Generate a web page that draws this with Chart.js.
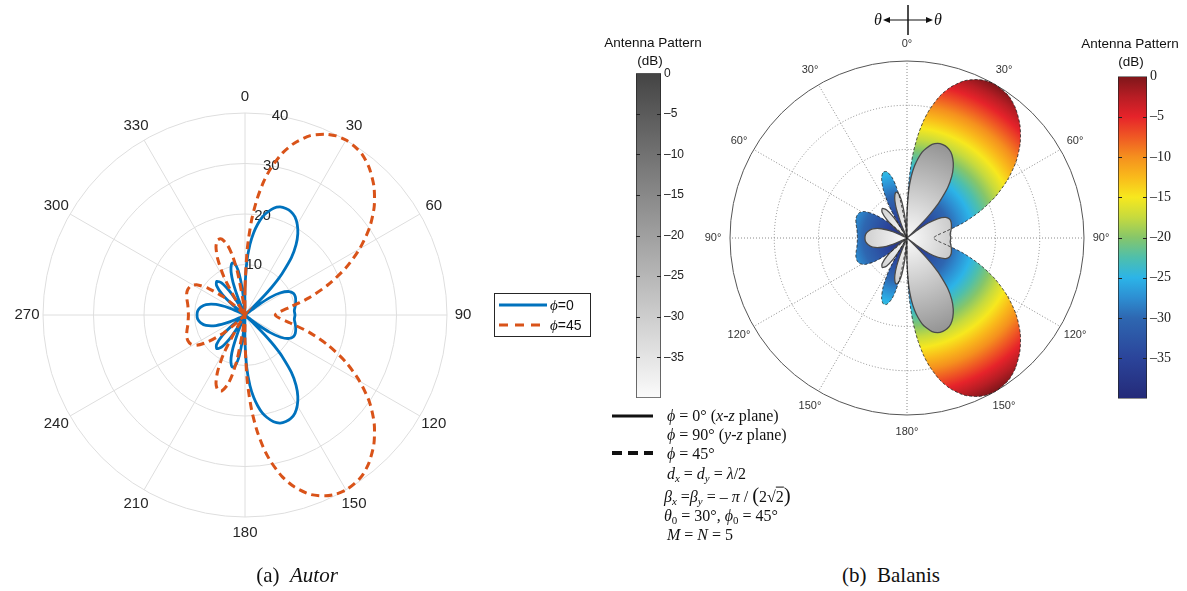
<!DOCTYPE html>
<html>
<head>
<meta charset="utf-8">
<title>Antenna pattern: Autor vs Balanis</title>
<script src="https://cdn.jsdelivr.net/npm/chart.js@4.4.1/dist/chart.umd.min.js"></script>
<style>
  body { margin: 0; width: 1187px; height: 591px; position: relative; overflow: hidden; background: #fff; }
  canvas { position: absolute; }
  .txt { position: absolute; white-space: nowrap; transform: translate(0, -50%); line-height: 1; color: #111; }
  .mid { transform: translate(-50%, -50%); }
  .sans { font-family: "Liberation Sans", Arial, sans-serif; }
  .serif { font-family: "Liberation Serif", "Times New Roman", serif; }
  sub { font-size: 0.68em; vertical-align: -0.3em; line-height: 0; }
</style>
</head>
<body>
<canvas id="autor" width="600" height="591" style="left:0;top:0"></canvas>
<canvas id="balanis" width="440" height="440" style="left:687px;top:18px"></canvas>
<canvas id="cbGray" width="57" height="345" style="left:636px;top:63px"></canvas>
<canvas id="cbJet" width="61" height="345" style="left:1118px;top:65px"></canvas>

<!-- theta direction cross above the Balanis plot -->
<svg width="90" height="40" style="position:absolute;left:863px;top:0">
  <line x1="45" y1="5" x2="45" y2="35" stroke="#111" stroke-width="1.5"/>
  <line x1="25" y1="20" x2="65" y2="20" stroke="#111" stroke-width="1.2"/>
  <polygon points="20,20 27,17 27,23" fill="#111"/>
  <polygon points="70,20 63,17 63,23" fill="#111"/>
</svg>
<div class="txt mid serif" style="left:878px;top:20px;font-size:16px"><i>θ</i></div>
<div class="txt mid serif" style="left:938px;top:20px;font-size:16px"><i>θ</i></div>

<div class="txt mid sans" style="left:653px;top:43px;font-size:13.5px">Antenna Pattern</div>
<div class="txt mid sans" style="left:650px;top:61px;font-size:13.5px">(dB)</div>
<div class="txt mid sans" style="left:1130px;top:44px;font-size:13.5px">Antenna Pattern</div>
<div class="txt mid sans" style="left:1131px;top:62px;font-size:13.5px">(dB)</div>

<!-- legend of the Balanis figure -->
<svg width="46" height="60" style="position:absolute;left:610px;top:405px">
  <line x1="2" y1="11" x2="43" y2="11" stroke="#111" stroke-width="3"/>
  <line x1="2" y1="48" x2="43" y2="48" stroke="#111" stroke-width="4" stroke-dasharray="10,6"/>
</svg>
<div class="txt serif" style="left:667px;top:416px;font-size:16px"><i>ϕ</i> = 0° (<i>x</i>-<i>z</i> plane)</div>
<div class="txt serif" style="left:667px;top:435px;font-size:16px"><i>ϕ</i> = 90° (<i>y</i>-<i>z</i> plane)</div>
<div class="txt serif" style="left:667px;top:454px;font-size:16px"><i>ϕ</i> = 45°</div>
<div class="txt serif" style="left:667px;top:474px;font-size:16px"><i>d<sub>x</sub></i> = <i>d<sub>y</sub></i> = <i>λ</i>/2</div>
<div class="txt serif" style="left:664px;top:495px;font-size:16px"><i>β<sub>x</sub></i> =<i>β<sub>y</sub></i> = – <i>π</i> / <span style="font-size:1.3em">(</span>2√<span style="text-decoration:overline">2</span><span style="font-size:1.3em">)</span></div>
<div class="txt serif" style="left:664px;top:516px;font-size:16px"><i>θ</i><sub>0</sub> = 30°, <i>ϕ</i><sub>0</sub> = 45°</div>
<div class="txt serif" style="left:667px;top:535px;font-size:16px"><i>M</i> = <i>N</i> = 5</div>

<div class="txt mid serif" style="left:297px;top:575px;font-size:21px">(a)&nbsp; <i>Autor</i></div>
<div class="txt mid serif" style="left:891px;top:575px;font-size:21px">(b)&nbsp; Balanis</div>

<script>
// level = pattern in dB + 40 (floor at 0), angle in degrees from top, clockwise
const phi0Deg = [0, 2, 4, 6, 8, 10, 12, 15, 18, 21, 24, 27, 30, 33, 36, 39, 42, 43, 44, 45, 46, 47, 51, 52, 53, 55, 58, 62, 66, 70, 75, 80, 85, 90,
  95, 100, 105, 110, 114, 118, 122, 125, 127, 128, 129, 133, 134, 135, 136, 137, 138, 141, 144, 147, 150, 153, 156, 159, 162, 165, 168, 170, 172, 174, 176, 178,
  180, 181, 182, 184, 185, 186, 188, 190, 192, 194, 196, 198, 200, 202, 203, 204, 209, 210, 211, 213, 216, 220, 224, 228, 231, 233, 234, 243, 244, 246, 250, 255, 260, 265, 270,
  275, 280, 285, 290, 294, 296, 297, 306, 307, 309, 312, 316, 320, 324, 327, 329, 330, 331, 336, 337, 338, 340, 342, 344, 346, 348, 350, 352, 354, 355, 356, 358, 359];
const phi0Lvl = [5.3, 10.6, 14.0, 16.4, 18.2, 19.7, 20.7, 21.9, 22.5, 22.6, 22.4, 21.8, 20.7, 19.2, 17.2, 14.6, 10.9, 9.3, 7.5, 5.3, 2.4, 0, 0, 1.2, 3.3, 6.0, 8.3, 9.9, 10.5, 10.6, 10.4, 10.1, 9.8, 9.9,
  9.8, 10.1, 10.4, 10.6, 10.5, 9.9, 8.3, 6.0, 3.3, 1.2, 0, 0, 2.4, 5.3, 7.5, 9.3, 10.9, 14.6, 17.2, 19.2, 20.7, 21.8, 22.4, 22.6, 22.5, 21.9, 20.7, 19.7, 18.2, 16.4, 14.0, 10.6,
  5.3, 0.9, 0, 0, 2.5, 5.2, 8.2, 9.8, 10.5, 10.6, 10.0, 8.9, 7.0, 4.0, 1.9, 0, 0, 1.1, 3.1, 5.7, 7.8, 8.7, 8.1, 6.0, 3.1, 0.2, 0, 0, 1.4, 3.5, 6.1, 8.0, 8.9, 9.4, 9.5,
  9.4, 8.9, 8.0, 6.1, 3.5, 1.4, 0, 0, 0.2, 3.1, 6.0, 8.1, 8.7, 7.8, 5.7, 3.1, 1.1, 0, 0, 1.9, 4.0, 7.0, 8.9, 10.0, 10.6, 10.5, 9.8, 8.2, 5.2, 2.5, 0, 0, 0.9];

const phi45Deg = [0, 2, 4, 6, 8, 10, 13, 16, 20, 24, 27, 30, 33, 36, 40, 45, 50, 55, 60, 65, 70, 75, 80, 85, 90,
  95, 100, 105, 110, 115, 120, 125, 130, 135, 140, 144, 147, 150, 153, 156, 160, 164, 167, 170, 172, 174, 176, 178,
  180, 181, 187, 188, 190, 192, 194, 197, 200, 203, 206, 209, 212, 213, 214, 226, 227, 228, 230, 234, 238, 242, 246, 250, 255, 260, 265, 270,
  275, 280, 285, 290, 294, 298, 302, 306, 310, 312, 313, 314, 326, 327, 328, 331, 334, 337, 340, 343, 346, 348, 350, 352, 353, 359];
const phi45Lvl = [5.3, 13.2, 18.9, 23.2, 26.7, 29.5, 32.9, 35.4, 37.8, 39.2, 39.8, 40, 39.8, 39.4, 38.2, 36.1, 33.4, 30.1, 26.2, 22.0, 17.5, 13.1, 9.1, 6.8, 6.0,
  6.8, 9.1, 13.1, 17.5, 22.0, 26.2, 30.1, 33.4, 36.1, 38.2, 39.4, 39.8, 40, 39.8, 39.2, 37.8, 35.4, 32.9, 29.5, 26.7, 23.2, 18.9, 13.2,
  5.3, 0, 0, 3.4, 8.8, 12.1, 14.2, 15.7, 15.8, 14.7, 12.3, 8.5, 2.8, 0.2, 0, 0, 1.3, 2.9, 5.6, 9.0, 11.3, 12.2, 12.4, 12.3, 11.9, 11.5, 11.3, 11.2,
  11.3, 11.5, 11.9, 12.3, 12.4, 12.2, 11.3, 9.0, 5.6, 2.9, 1.3, 0, 0, 0.2, 2.8, 8.5, 12.3, 14.7, 15.8, 15.7, 14.2, 12.1, 8.8, 3.4, 0, 0];

const rTicks = [10, 20, 30, 40];
const autorAngleTicks = [0, 30, 60, 90, 120, 150, 180, 210, 240, 270, 300, 330];
const cbTicks = [0, -5, -10, -15, -20, -25, -30, -35, -40];

// colour maps of the two colourbars (dB -> colour)
const jetDb = [0, -2.5, -5, -7.5, -10, -12.5, -15, -17.5, -20, -22.5, -25, -27.5, -30, -35, -40];
const jetColors = ['#7e161a', '#b71d24', '#e6232a', '#ef5824', '#f5901e', '#f9ba1b', '#f7e81e', '#c6da3e', '#86c66a', '#4ebfac', '#2cb4e8', '#2d8ed2', '#2e67b1', '#2b449a', '#242a78'];
const grayDb = [0, -40];
const grayColors = ['#444444', '#fbfbfb'];

const blue = '#0072BD';
const orange = '#D95319';

const thetaLabels = Array.from({ length: 360 }, (_, i) => String(i));

function onGrid(deg, lvl) {
  const out = new Array(360).fill(null);
  deg.forEach((d, i) => { out[d % 360] = lvl[i]; });
  return out;
}

function radialFill(stopsDb, colors) {
  return (c) => {
    const s = c.chart.scales.r;
    if (!s || !s.drawingArea) return 'rgba(0,0,0,0)';
    const g = c.chart.ctx.createRadialGradient(s.xCenter, s.yCenter, 0, s.xCenter, s.yCenter, s.drawingArea);
    stopsDb.forEach((d, i) => g.addColorStop((d + 40) / 40, colors[i]));
    return g;
  };
}

const autorDecor = {
  id: 'autorDecor',
  beforeDatasetsDraw(chart) {
    const s = chart.scales.r, c = chart.ctx;
    c.save();
    c.font = '15px "Liberation Sans", Arial, sans-serif';
    c.fillStyle = '#262626';
    c.textAlign = 'center';
    c.textBaseline = 'middle';
    rTicks.forEach(v => {
      const p = s.getPointPosition(10, s.getDistanceFromCenterForValue(v));
      c.fillText(String(v), p.x, p.y);
    });
    c.restore();
  },
  afterDraw(chart) {
    const s = chart.scales.r, c = chart.ctx;
    c.save();
    c.font = '15px "Liberation Sans", Arial, sans-serif';
    c.fillStyle = '#262626';
    c.textAlign = 'center';
    c.textBaseline = 'middle';
    autorAngleTicks.forEach(a => {
      const p = s.getPointPosition(a, s.drawingArea + 16);
      c.fillText(String(a), p.x, p.y);
    });
    // legend box
    c.fillStyle = '#fff';
    c.fillRect(494.5, 293.5, 96, 43);
    c.strokeStyle = '#262626';
    c.lineWidth = 1;
    c.strokeRect(494.5, 293.5, 96, 43);
    c.lineWidth = 2.8;
    c.strokeStyle = blue;
    c.beginPath(); c.moveTo(499, 305); c.lineTo(547, 305); c.stroke();
    c.strokeStyle = orange;
    c.setLineDash([9, 7]);
    c.beginPath(); c.moveTo(499, 325); c.lineTo(547, 325); c.stroke();
    c.setLineDash([]);
    c.textAlign = 'left';
    c.fillStyle = '#111';
    [['=0', 306], ['=45', 326]].forEach(([t, y]) => {
      c.font = 'italic 15px "Liberation Serif", serif';
      c.fillText('ϕ', 550, y);
      const w = c.measureText('ϕ').width;
      c.font = '14px "Liberation Sans", Arial, sans-serif';
      c.fillText(t, 550 + w, y);
    });
    c.restore();
  }
};

const balanisDecor = {
  id: 'balanisDecor',
  afterDraw(chart) {
    const s = chart.scales.r, c = chart.ctx;
    c.save();
    c.font = '11px "Liberation Sans", Arial, sans-serif';
    c.fillStyle = '#333';
    c.textAlign = 'center';
    c.textBaseline = 'middle';
    autorAngleTicks.forEach(a => {
      const p = s.getPointPosition(a, s.drawingArea + 17);
      c.fillText((a <= 180 ? a : 360 - a) + '°', p.x, p.y);
    });
    c.restore();
  }
};

const innerTicks = {
  id: 'innerTicks',
  afterDatasetsDraw(chart) {
    const y = chart.scales.y, a = chart.chartArea, c = chart.ctx;
    c.save();
    c.strokeStyle = '#222';
    c.lineWidth = 1;
    cbTicks.forEach(v => {
      if (v === 0 || v === -40) return;
      const py = Math.round(y.getPixelForValue(v)) + 0.5;
      c.beginPath();
      c.moveTo(a.left, py); c.lineTo(a.left + 4, py);
      c.moveTo(a.right - 4, py); c.lineTo(a.right, py);
      c.stroke();
    });
    c.restore();
  }
};

new Chart(document.getElementById('autor'), {
  type: 'radar',
  data: {
    labels: thetaLabels,
    datasets: [
      { label: 'ϕ=0', data: onGrid(phi0Deg, phi0Lvl), borderColor: blue, borderWidth: 2.8, pointRadius: 0,
        fill: false, spanGaps: true, tension: 0.25, order: 1 },
      { label: 'ϕ=45', data: onGrid(phi45Deg, phi45Lvl), borderColor: orange, borderWidth: 3, borderDash: [8, 5],
        pointRadius: 0, fill: false, spanGaps: true, tension: 0.25, order: 0 }
    ]
  },
  options: {
    responsive: false,
    animation: false,
    layout: { padding: { left: 43, top: 113, right: 153, bottom: 74 } },
    plugins: { legend: { display: false }, tooltip: { enabled: false } },
    scales: {
      r: {
        min: 0, max: 40,
        ticks: { display: false, stepSize: 10 },
        pointLabels: { display: false },
        grid: { circular: true, color: '#dedede', lineWidth: 1 },
        angleLines: { color: '#dedede', lineWidth: c => (c.index % 30 === 0 ? 1 : 0) }
      }
    }
  },
  plugins: [autorDecor]
});

new Chart(document.getElementById('balanis'), {
  type: 'radar',
  data: {
    labels: thetaLabels,
    datasets: [
      { label: 'ϕ=45 edge', data: onGrid(phi45Deg, phi45Lvl), borderColor: 'rgba(30,30,30,0.75)', borderWidth: 1,
        borderDash: [3, 2], pointRadius: 0, fill: false, spanGaps: true, tension: 0.25 },
      { label: 'ϕ=0', data: onGrid(phi0Deg, phi0Lvl), borderColor: '#4a4a4a', borderWidth: 1.3,
        backgroundColor: radialFill(grayDb, grayColors), pointRadius: 0, fill: 'origin', spanGaps: true, tension: 0.25 },
      { label: 'ϕ=45', data: onGrid(phi45Deg, phi45Lvl), borderColor: 'rgba(0,0,0,0)', borderWidth: 1,
        backgroundColor: radialFill(jetDb, jetColors), pointRadius: 0, fill: 'origin', spanGaps: true, tension: 0.25 }
    ]
  },
  options: {
    responsive: false,
    animation: false,
    layout: { padding: 43 },
    plugins: { legend: { display: false }, tooltip: { enabled: false } },
    scales: {
      r: {
        min: 0, max: 40, z: 1,
        ticks: { display: false, stepSize: 10 },
        pointLabels: { display: false },
        grid: { circular: true, color: c => (c.tick && c.tick.value === 40 ? '#555' : '#8a8a8a'), lineWidth: 1 },
        border: { dash: c => (c.tick && c.tick.value === 40 ? [] : [1, 2]) },
        angleLines: { color: '#8a8a8a', lineWidth: c => (c.index % 30 === 0 ? 1 : 0), borderDash: [1, 2] }
      }
    }
  },
  plugins: [balanisDecor]
});

function colorbar(id, stopsDb, colors, font) {
  return new Chart(document.getElementById(id), {
    type: 'bar',
    data: {
      labels: ['dB'],
      datasets: [{
        data: [[-40, 0]],
        backgroundColor: (c) => {
          const y = c.chart.scales.y;
          if (!c.chart.chartArea || !y) return colors[0];
          const g = c.chart.ctx.createLinearGradient(0, y.getPixelForValue(0), 0, y.getPixelForValue(-40));
          stopsDb.forEach((d, i) => g.addColorStop(-d / 40, colors[i]));
          return g;
        },
        borderColor: '#222', borderWidth: 1, borderSkipped: false,
        barPercentage: 1, categoryPercentage: 1
      }]
    },
    options: {
      responsive: false,
      animation: false,
      layout: { padding: { top: 10, bottom: 10, left: 0, right: 0 } },
      plugins: { legend: { display: false }, tooltip: { enabled: false } },
      scales: {
        x: { display: false },
        y: {
          position: 'right', min: -40, max: 0,
          afterFit(scale) { scale.width = 32; },
          afterBuildTicks(scale) { scale.ticks = cbTicks.map(v => ({ value: v })); },
          ticks: { font, color: '#222', padding: 3,
            callback: v => (v === -40 ? '' : v === 0 ? '0' : '\u2013' + (-v)) },
          grid: { display: false, drawTicks: false },
          border: { display: false }
        }
      }
    },
    plugins: [innerTicks]
  });
}

colorbar('cbGray', grayDb, grayColors, { family: '"Liberation Sans", Arial, sans-serif', size: 12 });
colorbar('cbJet', jetDb, jetColors, { family: '"Liberation Serif", "Times New Roman", serif', size: 14 });
</script>
</body>
</html>
